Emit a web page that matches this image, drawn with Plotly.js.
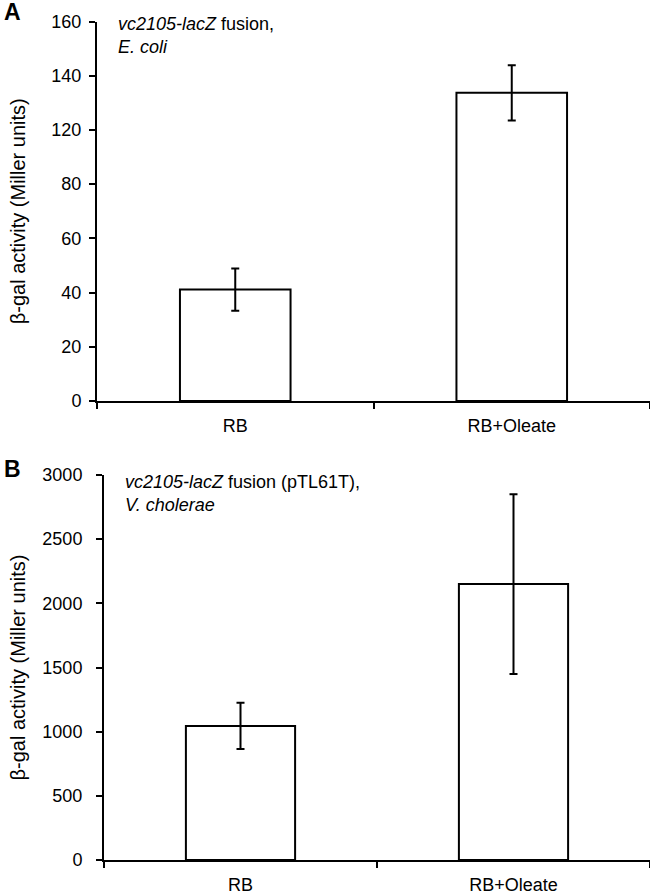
<!DOCTYPE html>
<html>
<head>
<meta charset="utf-8">
<script src="https://cdn.plot.ly/plotly-3.0.1.min.js"></script>
<style>html,body{margin:0;padding:0;background:#fff;}#chart{width:650px;height:896px;}</style>
</head>
<body>
<div id="chart"></div>
<script>
// ---- data ----
const categories = ['RB', 'RB+Oleate'];

// Panel A (E. coli), values in units of the printed axis labels
const valuesA = [41.1, 133.7];
const errorsA = [7.8, 10.2];
// printed tick labels of panel A (evenly spaced on the page; note 100 is absent)
const tickLabelsA = [0, 20, 40, 60, 80, 120, 140, 160];

// Panel B (V. cholerae)
const valuesB = [1045, 2150];
const errorsB = [180, 700];
const tickLabelsB = [0, 500, 1000, 1500, 2000, 2500, 3000];

// ---- helpers ----
// panel A ticks are evenly spaced; map label units to axis positions
const stepA = 20;
const tickPosA = tickLabelsA.map((_, i) => i * stepA);
function posA(v) {
  for (let i = 0; i < tickLabelsA.length - 1; i++) {
    const a = tickLabelsA[i], b = tickLabelsA[i + 1];
    if (v <= b || i === tickLabelsA.length - 2) {
      return tickPosA[i] + (v - a) / (b - a) * (tickPosA[i + 1] - tickPosA[i]);
    }
  }
}
const yA = valuesA.map(posA);
const errPlusA = valuesA.map((v, i) => posA(v + errorsA[i]) - posA(v));
const errMinusA = valuesA.map((v, i) => posA(v) - posA(v - errorsA[i]));

const FONT = 'Arial, "Liberation Sans", sans-serif';
const barStyle = {color: '#ffffff', line: {color: '#000000', width: 2}};

const traceA = {
  type: 'bar', x: categories, y: yA, width: 0.4,
  marker: barStyle,
  error_y: {type: 'data', symmetric: false, array: errPlusA, arrayminus: errMinusA,
            color: '#000000', thickness: 2, width: 4},
  xaxis: 'x', yaxis: 'y', hoverinfo: 'skip', showlegend: false
};
const traceB = {
  type: 'bar', x: categories, y: valuesB, width: 0.4,
  marker: barStyle,
  error_y: {type: 'data', array: errorsB, color: '#000000', thickness: 2, width: 4},
  xaxis: 'x2', yaxis: 'y2', hoverinfo: 'skip', showlegend: false
};

const H = 896, W = 650;
const xAxisCommon = {
  type: 'category', range: [-0.5, 1.5], showline: true, linecolor: '#000', linewidth: 2,
  ticks: 'outside', tickson: 'boundaries', ticklen: 6, tickwidth: 2, tickcolor: '#000',
  tickfont: {family: FONT, size: 18, color: '#000'}, ticklabelstandoff: 7,
  showgrid: false, zeroline: false, fixedrange: true
};
const yAxisCommon = {
  showline: true, linecolor: '#000', linewidth: 2,
  ticks: 'outside', ticklen: 6, tickwidth: 2, tickcolor: '#000',
  tickfont: {family: FONT, size: 18, color: '#000'},
  showgrid: false, zeroline: false, fixedrange: true
};

const layout = {
  width: W, height: H,
  margin: {l: 0, r: 0, t: 0, b: 0},
  paper_bgcolor: '#fff', plot_bgcolor: '#fff',
  bargap: 0.6,
  xaxis: Object.assign({}, xAxisCommon, {domain: [97 / W, 1], anchor: 'y'}),
  yaxis: Object.assign({}, yAxisCommon, {
    domain: [1 - 401 / H, 1 - 21.5 / H], anchor: 'x',
    range: [0, tickPosA[tickPosA.length - 1]],
    tickmode: 'array', tickvals: tickPosA, ticktext: tickLabelsA.map(String),
    ticklabelstandoff: 4,
    title: {text: 'β-gal activity (Miller units)', standoff: 20,
            font: {family: FONT, size: 20, color: '#000'}}
  }),
  xaxis2: Object.assign({}, xAxisCommon, {domain: [104 / W, 1], anchor: 'y2'}),
  yaxis2: Object.assign({}, yAxisCommon, {
    domain: [1 - 860 / H, 1 - 475 / H], anchor: 'x2',
    range: [0, tickLabelsB[tickLabelsB.length - 1]],
    tickmode: 'array', tickvals: tickLabelsB, ticktext: tickLabelsB.map(String),
    ticklabelstandoff: 10,
    title: {text: 'β-gal activity (Miller units)', standoff: 11,
            font: {family: FONT, size: 20, color: '#000'}}
  }),
  annotations: [
    {text: '<b>A</b>', xref: 'paper', yref: 'paper', x: 2 / W, y: 1 - 12 / H,
     xanchor: 'left', yanchor: 'middle', showarrow: false,
     font: {family: FONT, size: 23, color: '#000'}},
    {text: '<b>B</b>', xref: 'paper', yref: 'paper', x: 2 / W, y: 1 - 469 / H,
     xanchor: 'left', yanchor: 'middle', showarrow: false,
     font: {family: FONT, size: 23, color: '#000'}},
    {text: '<i>vc2105-lacZ</i> fusion,<br><i>E. coli</i>', xref: 'paper', yref: 'paper',
     x: 116 / W, y: 1 - 12 / H, xanchor: 'left', yanchor: 'top', align: 'left', showarrow: false,
     font: {family: FONT, size: 18, color: '#000'}},
    {text: '<i>vc2105-lacZ</i> fusion (pTL61T),<br><i>V. cholerae</i>', xref: 'paper', yref: 'paper',
     x: 123 / W, y: 1 - 470 / H, xanchor: 'left', yanchor: 'top', align: 'left', showarrow: false,
     font: {family: FONT, size: 18, color: '#000'}}
  ]
};

Plotly.newPlot('chart', [traceA, traceB], layout, {staticPlot: true, displayModeBar: false});
</script>
</body>
</html>
